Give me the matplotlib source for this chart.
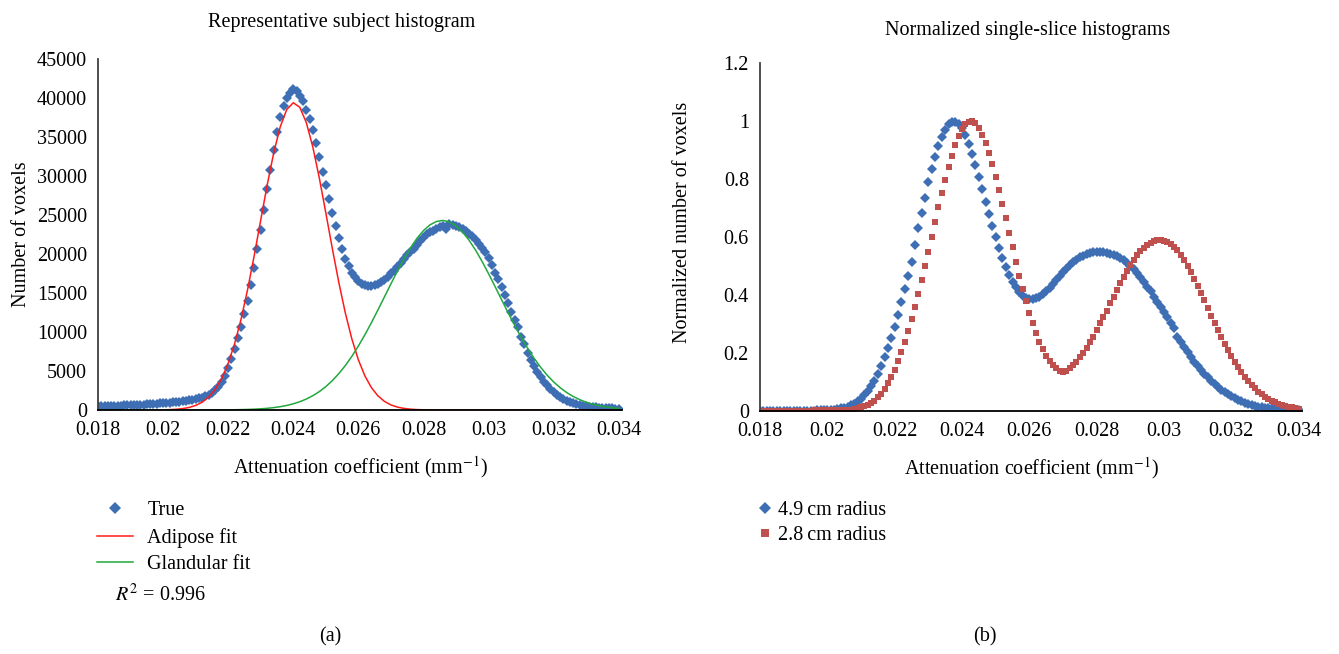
#recreate the two histogram panels
import numpy as np
import matplotlib
matplotlib.use('Agg')
import matplotlib.pyplot as plt

plt.rcParams['font.family'] = ['Liberation Serif', 'DejaVu Serif']
plt.rcParams['mathtext.fontset'] = 'stix'
plt.rcParams['font.size'] = 14

#---- data ----
#bin positions of the measured histograms (attenuation coefficient, mm^-1)
bin_start = 0.018
bin_step = 0.0001
#positions of the fitted curves
fit_start = 0.018
fit_step = 0.0002

#panel (a): measured histogram of a representative subject
true_counts = [
    500, 510, 520, 530, 540, 550, 560, 575, 590, 605,
    620, 640, 660, 680, 700, 720, 750, 780, 820, 850,
    880, 920, 960, 1000, 1040, 1080, 1120, 1170, 1230, 1300,
    1380, 1480, 1600, 1750, 1950, 2200, 2550, 3000, 3600, 4400,
    5400, 6500, 7800, 9200, 10700, 12300, 14000, 16000, 18200, 20600,
    23100, 25700, 28300, 30800, 33300, 35600, 37600, 39000, 40000, 40700,
    41200, 40900, 40300, 39600, 38500, 37300, 35900, 34200, 32400, 30500,
    28800, 27000, 25300, 23600, 22000, 20600, 19400, 18400, 17600, 17000,
    16500, 16200, 16000, 15900, 15900, 16000, 16200, 16400, 16700, 17100,
    17500, 17800, 18300, 18800, 19300, 19900, 20300, 20700, 21200, 21700,
    22100, 22500, 22800, 23000, 23200, 23400, 23600, 23200, 23800, 23700,
    23600, 23400, 23200, 22900, 22600, 22250, 21800, 21300, 20800, 20200,
    19500, 18600, 17600, 16800, 15800, 14800, 13700, 12600, 11600, 10600,
    9400, 8400, 7300, 6400, 5600, 4900, 4200, 3650, 3150, 2650,
    2250, 1950, 1650, 1420, 1200, 1030, 880, 760, 650, 560,
    490, 430, 380, 340, 300, 270, 240, 220, 200, 180,
    170]
adipose_fit = [
    0, 0, 0, 0, 0, 0, 1, 2, 5, 10,
    22, 46, 92, 177, 326, 581, 998, 1651, 2628, 4035,
    5973, 8522, 11710, 15512, 19799, 24357, 28872, 32985, 36315, 38529,
    39393, 38813, 36855, 33726, 29739, 25275, 20701, 16335, 12427, 9105,
    6434, 4377, 2872, 1816, 1106, 650, 368, 200, 105, 53,
    26, 12, 6, 2, 1, 0, 0, 0, 0, 0,
    0, 0, 0, 0, 0, 0, 0, 0, 0, 0,
    0, 0, 0, 0, 0, 0, 0, 0, 0, 0,
    0]
glandular_fit = [
    0, 0, 0, 0, 0, 0, 0, 0, 0, 0,
    0, 0, 0, 1, 1, 2, 3, 5, 9, 13,
    21, 31, 48, 71, 104, 150, 215, 304, 424, 583,
    791, 1060, 1401, 1830, 2358, 2999, 3764, 4663, 5701, 6879,
    8196, 9637, 11185, 12813, 14485, 16167, 17807, 19360, 20774, 22004,
    23002, 23734, 24171, 24298, 24108, 23610, 22823, 21773, 20504, 19058,
    17484, 15831, 14150, 12483, 10869, 9341, 7922, 6634, 5482, 4471,
    3599, 2860, 2243, 1737, 1327, 1001, 746, 547, 396, 284,
    201]

#panel (b): normalized single-slice histograms
radius_49 = [
    0.001, 0.001, 0.001, 0.001, 0.001, 0.001, 0.001, 0.001, 0.001, 0.001,
    0.001, 0.001, 0.001, 0.001, 0.001, 0.001, 0.001, 0.002, 0.002, 0.003,
    0.003, 0.004, 0.005, 0.007, 0.009, 0.011, 0.015, 0.019, 0.025, 0.033,
    0.042, 0.054, 0.068, 0.085, 0.105, 0.128, 0.155, 0.185, 0.217, 0.252,
    0.290, 0.331, 0.375, 0.420, 0.467, 0.515, 0.572, 0.630, 0.683, 0.735,
    0.790, 0.835, 0.875, 0.912, 0.945, 0.970, 0.988, 0.998, 0.997, 0.990,
    0.975, 0.952, 0.920, 0.885, 0.848, 0.807, 0.764, 0.720, 0.680, 0.638,
    0.600, 0.562, 0.526, 0.497, 0.470, 0.445, 0.426, 0.410, 0.398, 0.390,
    0.386, 0.385, 0.388, 0.394, 0.403, 0.414, 0.424, 0.437, 0.450, 0.465,
    0.478, 0.490, 0.502, 0.513, 0.522, 0.530, 0.536, 0.541, 0.545, 0.548,
    0.549, 0.549, 0.548, 0.546, 0.543, 0.539, 0.534, 0.528, 0.520, 0.511,
    0.500, 0.488, 0.476, 0.463, 0.446, 0.429, 0.412, 0.394, 0.377, 0.360,
    0.342, 0.324, 0.305, 0.286, 0.255, 0.237, 0.219, 0.202, 0.186, 0.170,
    0.155, 0.141, 0.128, 0.116, 0.104, 0.093, 0.083, 0.074, 0.065, 0.057,
    0.050, 0.044, 0.038, 0.033, 0.029, 0.025, 0.021, 0.018, 0.015, 0.013,
    0.011, 0.010, 0.009, 0.008, 0.007, 0.006, 0.005, 0.004, 0.004, 0.003,
    0.003]
radius_28 = [
    0.001, 0.001, 0.001, 0.001, 0.001, 0.001, 0.001, 0.001, 0.001, 0.001,
    0.001, 0.001, 0.001, 0.001, 0.001, 0.001, 0.002, 0.002, 0.002, 0.002,
    0.002, 0.002, 0.002, 0.002, 0.003, 0.003, 0.004, 0.005, 0.007, 0.009,
    0.012, 0.016, 0.021, 0.028, 0.036, 0.047, 0.060, 0.076, 0.095, 0.117,
    0.142, 0.171, 0.203, 0.238, 0.276, 0.317, 0.360, 0.405, 0.452, 0.500,
    0.549, 0.601, 0.652, 0.705, 0.750, 0.797, 0.840, 0.880, 0.917, 0.948,
    0.971, 0.990, 0.997, 1.000, 0.993, 0.976, 0.953, 0.925, 0.890, 0.853,
    0.808, 0.763, 0.715, 0.665, 0.615, 0.565, 0.515, 0.467, 0.421, 0.379,
    0.339, 0.302, 0.268, 0.239, 0.213, 0.191, 0.172, 0.159, 0.147, 0.139,
    0.136, 0.139, 0.147, 0.158, 0.170, 0.185, 0.200, 0.216, 0.237, 0.256,
    0.279, 0.302, 0.325, 0.346, 0.371, 0.394, 0.417, 0.440, 0.463, 0.484,
    0.503, 0.520, 0.537, 0.551, 0.563, 0.573, 0.580, 0.585, 0.588, 0.589,
    0.587, 0.584, 0.577, 0.567, 0.554, 0.539, 0.521, 0.501, 0.479, 0.456,
    0.432, 0.407, 0.381, 0.355, 0.329, 0.303, 0.278, 0.254, 0.231, 0.209,
    0.188, 0.168, 0.150, 0.133, 0.117, 0.103, 0.090, 0.078, 0.067, 0.058,
    0.049, 0.042, 0.035, 0.030, 0.025, 0.021, 0.017, 0.014, 0.012, 0.010,
    0.008]

x_ticks = [0.018, 0.020, 0.022, 0.024, 0.026, 0.028, 0.030, 0.032, 0.034]
x_tick_labels = ['0.018', '0.02', '0.022', '0.024', '0.026', '0.028', '0.03', '0.032', '0.034']
ya_ticks = [0, 5000, 10000, 15000, 20000, 25000, 30000, 35000, 40000, 45000]
yb_ticks = [0, 0.2, 0.4, 0.6, 0.8, 1.0, 1.2]
yb_tick_labels = ['0', '0.2', '0.4', '0.6', '0.8', '1', '1.2']

#bin centres
x_true = bin_start + bin_step*np.arange(len(true_counts))
x_fit = fit_start + fit_step*np.arange(len(adipose_fit))
x_b = bin_start + bin_step*np.arange(len(radius_49))

blue = '#3E6FB4'
red_marker = '#C0504D'
fs = 14.5

fig = plt.figure(figsize=(13.39, 6.54), dpi=100)
ax1 = fig.add_axes([0.0732, 0.3731, 0.3913, 0.5367])
ax2 = fig.add_axes([0.5676, 0.3716, 0.4048, 0.5321])

#panel (a)
ax1.plot(x_true, true_counts, linestyle='none', marker='D', ms=5.0,
         color=blue, mew=0, label='True')
ax1.plot(x_fit, adipose_fit, color='#FF1A1A', lw=1.1, label='Adipose fit')
ax1.plot(x_fit, glandular_fit, color='#20A83C', lw=1.1, label='Glandular fit')
ax1.set_xlim(0.018, 0.0341)
ax1.set_ylim(0, 45000)
ax1.set_yticks(ya_ticks)
ax1.set_yticklabels([str(v) for v in ya_ticks])
ax1.set_title('Representative subject histogram', fontsize=fs, pad=23, x=0.464)
ax1.set_ylabel('Number of voxels', fontsize=fs)
ax1.yaxis.set_label_coords(-0.128, 0.5)
ax1.legend(loc='upper left', bbox_to_anchor=(0.0724, 0.2340), bbox_transform=fig.transFigure,
           frameon=False, fontsize=fs, handlelength=1.8, handletextpad=0.7,
           labelspacing=0.38, borderpad=0, borderaxespad=0, markerscale=1.3)
fig.text(0.086, 0.090, r'$R^2$ = 0.996', fontsize=fs, va='center', ha='left')

#panel (b)
ax2.plot(x_b, radius_49, linestyle='none', marker='D', ms=4.8,
         color=blue, mew=0, label='4.9\u2009cm radius')
ax2.plot(x_b, radius_28, linestyle='none', marker='s', ms=4.5,
         color=red_marker, mew=0, label='2.8\u2009cm radius')
ax2.set_xlim(0.018, 0.0341)
ax2.set_ylim(0, 1.2)
ax2.set_yticks(yb_ticks)
ax2.set_yticklabels(yb_tick_labels)
ax2.set_title('Normalized single-slice histograms', fontsize=fs, pad=20, x=0.493)
ax2.set_ylabel('Normalized number of voxels', fontsize=fs)
ax2.yaxis.set_label_coords(-0.125, 0.543)
ax2.legend(loc='upper left', bbox_to_anchor=(0.566, 0.2340), bbox_transform=fig.transFigure,
           frameon=False, fontsize=fs, handlelength=0.7, handletextpad=0.3,
           labelspacing=0.30, borderpad=0, borderaxespad=0, markerscale=1.3)

for ax in (ax1, ax2):
    ax.set_xticks(x_ticks)
    ax.set_xticklabels(x_tick_labels)
    ax.set_xlabel('Attenuation coefficient (mm$^{-1}$)', fontsize=fs, labelpad=10)
    ax.tick_params(length=0, labelsize=fs, pad=8)
    ax.spines['top'].set_visible(False)
    ax.spines['right'].set_visible(False)
    ax.spines['bottom'].set_color('black')
    ax.spines['bottom'].set_linewidth(1.3)
    ax.spines['left'].set_color('#404040')
    ax.spines['left'].set_linewidth(1.3)

fig.text(0.2465, 0.026, '(a)', fontsize=fs, ha='center', va='center')
fig.text(0.7355, 0.026, '(b)', fontsize=fs, ha='center', va='center')

fig.savefig('out.png', dpi=100)
